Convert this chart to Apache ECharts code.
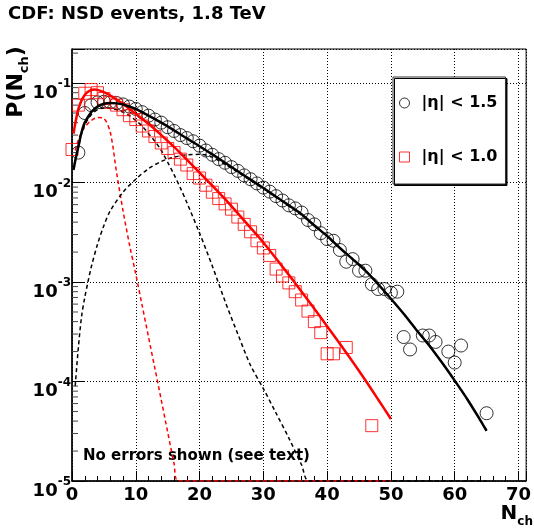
<!DOCTYPE html>
<html><head><meta charset="utf-8">
<script src="https://cdn.jsdelivr.net/npm/echarts@6/dist/echarts.min.js"></script>
<style>html,body{margin:0;padding:0;background:#fff}#c{width:534px;height:532px}</style>
</head><body><div id="c"></div>
<script>
// ---- data ----
const nCirc = [1,2,3,4,5,6,7,8,9,10,11,12,13,14,15,16,17,18,19,20,21,22,23,24,25,26,27,28,29,30,31,32,33,34,35,36,37,38,39,40,41,42,43,44,45,46,47,48,49,50,51,52,53,55,56,57,59,60,61,65];
const pCirc = [0.020,0.050,0.060,0.064,0.065,0.064,0.063,0.061,0.058,0.055,0.051,0.047,0.043,0.040,0.036,0.033,0.030,0.028,0.026,0.0235,0.021,0.019,0.0172,0.0158,0.0143,0.0131,0.0118,0.0108,0.0098,0.0089,0.0081,0.0073,0.0066,0.0059,0.0055,0.0050,0.0042,0.0038,0.0031,0.0027,0.0026,0.0021,0.0016,0.0017,0.0013,0.0013,0.00095,0.00085,0.00085,0.00078,0.00080,0.00028,0.00021,0.00029,0.00029,0.00025,0.00020,0.000155,0.00023,0.000048];

const nSq = [0,1,2,3,4,5,6,7,8,9,10,11,12,13,14,15,16,17,18,19,20,21,22,23,24,25,26,27,28,29,30,31,32,33,34,35,36,37,38,39,40,41,43,47];
const pSq = [0.0215,0.060,0.079,0.086,0.080,0.070,0.064,0.060,0.054,0.047,0.043,0.037,0.033,0.029,0.025,0.022,0.0200,0.0172,0.0150,0.0123,0.0111,0.0094,0.0080,0.0069,0.0061,0.0054,0.0045,0.0038,0.0032,0.0026,0.0022,0.00185,0.00135,0.00115,0.00098,0.00080,0.00066,0.00051,0.00040,0.00031,0.00019,0.00019,0.00022,0.000036];

const nFitB = [0.25,0.5,1,1.5,2,3,4,5,6,7,8,9,10,12,14,16,18,20,22,24,26,28,30,32,34,36,38,40,42,44,46,48,50,52,54,56,58,60,62,64,65];
const pFitB = [0.0135,0.0165,0.023,0.032,0.040,0.051,0.058,0.062,0.063,0.0625,0.061,0.058,0.055,0.047,0.040,0.0335,0.0278,0.0232,0.0192,0.0158,0.0130,0.0107,0.0088,0.0072,0.0059,0.0048,0.0037,0.0029,0.0022,0.0017,0.0013,0.00095,0.00068,0.00048,0.00033,0.00023,0.000155,0.000102,0.000066,0.000041,0.000032];

const nSoftB = [0.25,0.5,1,1.5,2,3,4,5,6,7,8,9,10,11,12,13,14,15,16,17,18,20,22,24,26,28,30,32,34,36,37.2,65];
const pSoftB = [0.0133,0.0163,0.0226,0.031,0.038,0.048,0.054,0.056,0.056,0.054,0.051,0.047,0.042,0.037,0.031,0.026,0.021,0.016,0.012,0.0088,0.0063,0.0031,0.00145,0.00064,0.00030,0.000145,0.000085,0.000048,0.000027,0.0000145,0.00001,0.00001];

const nHardB = [0.5,1,1.5,2,2.5,3,4,5,6,8,10,12,14,16,18,20,22,24,26,28,30,32,34,36,38,40,42,44,46,48,50,52,54,56,58,60,62,64,65];
const pHardB = [0.00009,0.00022,0.00045,0.0007,0.001,0.0014,0.0024,0.0037,0.0052,0.0080,0.0108,0.0138,0.0163,0.0180,0.0190,0.0192,0.0180,0.0152,0.0127,0.0105,0.0087,0.0071,0.0058,0.0047,0.0037,0.0029,0.0022,0.0017,0.0013,0.00095,0.00068,0.00048,0.00033,0.00023,0.000155,0.000102,0.000066,0.000041,0.000032];

const nFitR = [0.25,0.5,1,1.5,2,2.5,3,3.5,4,5,6,7,8,9,10,12,14,16,18,20,22,24,26,28,30,32,34,36,38,40,42,44,46,48,50];
const pFitR = [0.031,0.039,0.055,0.067,0.076,0.082,0.085,0.086,0.0855,0.081,0.075,0.068,0.062,0.055,0.049,0.039,0.030,0.0228,0.0170,0.0126,0.0093,0.0068,0.0049,0.0035,0.0025,0.00172,0.00118,0.00080,0.00054,0.00036,0.00024,0.000158,0.000103,0.000066,0.000042];

const nSoftR = [0.5,1,1.5,2,3,4,5,6,7,8,9,10,11,12,13,14,15,16,16.7,50];
const pSoftR = [0.021,0.027,0.032,0.036,0.042,0.045,0.044,0.032,0.0125,0.0052,0.0024,0.0012,0.00058,0.00028,0.000135,0.000065,0.000031,0.000015,0.00001,0.00001];

const yMinorTicks = [];
[1e-5,1e-4,1e-3,1e-2,1e-1].forEach(d => { for (let k = 2; k <= 9; k++) { if (k*d < 0.22) yMinorTicks.push(k*d); } });

const labelEta15 = '|η| < 1.5';
const labelEta10 = '|η| < 1.0';
const titleText = 'CDF: NSD events, 1.8 TeV';
const noteText = 'No errors shown (see text)';

// ---- chart ----
const zip = (a, b) => a.map((v, i) => [v, b[i]]);
const FONT = '"DejaVu Sans", Verdana, sans-serif';
const chart = echarts.init(document.getElementById('c'), null, {renderer: 'canvas'});

const dashed = (name, n, p, color) => ({
  name, type: 'line', data: zip(n, p), showSymbol: false, smooth: 0.3, clip: true,
  lineStyle: {color, width: 1.5, type: [4, 3]}, z: 3, silent: true
});

chart.setOption({
  animation: false,
  backgroundColor: '#fff',
  grid: {left: 72, top: 49, right: 1, bottom: 51, show: true, borderColor: '#000', borderWidth: 1},
  xAxis: {
    type: 'value', min: 0, max: 71.2, interval: 10,
    axisLine: {show: true, lineStyle: {color: '#000', width: 1.5}},
    axisTick: {show: true, inside: true, length: 10, lineStyle: {color: '#000'}},
    minorTick: {show: true, splitNumber: 5, length: 5, lineStyle: {color: '#000'}},
    splitLine: {show: true, lineStyle: {color: '#000', type: [1, 2], width: 1}},
    axisLabel: {
      margin: 5, color: '#000', fontFamily: FONT, fontWeight: 'bold', fontSize: 18,
      formatter: v => (Math.abs(v % 10) < 1e-6 ? String(v) : '')
    }
  },
  yAxis: {
    type: 'log', logBase: 10, min: 1e-5, max: 0.22,
    axisLine: {show: true, lineStyle: {color: '#000', width: 1.5}},
    axisTick: {show: true, inside: true, length: 12, lineStyle: {color: '#000'}},
    splitLine: {show: true, lineStyle: {color: '#000', type: [1, 2], width: 1}},
    axisLabel: {
      margin: 1, color: '#000', padding: [14, 0, 0, 0],
      formatter: v => {
        const l = Math.log10(v), e = Math.round(l);
        if (Math.abs(l - e) > 0.01) return '';
        return '{b|10}{s|-' + (-e) + '}';
      },
      rich: {
        b: {fontFamily: FONT, fontWeight: 'bold', fontSize: 18, lineHeight: 24, verticalAlign: 'bottom', color: '#000'},
        s: {fontFamily: FONT, fontWeight: 'bold', fontSize: 12, lineHeight: 10, verticalAlign: 'top', color: '#000'}
      }
    }
  },
  legend: {
    orient: 'vertical', left: 393, top: 77,
    padding: [18, 8, 19, 6], itemGap: 38, itemWidth: 24, itemHeight: 10,
    backgroundColor: '#fff', borderColor: '#333', borderWidth: 1,
    shadowColor: '#000', shadowBlur: 0, shadowOffsetX: 1.5, shadowOffsetY: 1.5,
    textStyle: {fontFamily: FONT, fontWeight: 'bold', fontSize: 16, color: '#000'},
    selectedMode: false,
    data: [
      {name: labelEta15, icon: 'circle', itemStyle: {color: 'transparent', borderColor: '#000', borderWidth: 1}},
      {name: labelEta10, icon: 'path://M0,0L10,0L10,10L0,10Z', itemStyle: {color: 'transparent', borderColor: '#ff0000', borderWidth: 1}}
    ]
  },
  graphic: [
    {type: 'text', left: 8, top: 5, style: {text: titleText, fontFamily: FONT, fontWeight: 'bold', fontSize: 18, fill: '#000'}},
    {type: 'text', x: 83, y: 456, style: {text: noteText, fontFamily: FONT, fontWeight: 'bold', fontSize: 15, fill: '#000', verticalAlign: 'middle'}},
    {type: 'text', x: 18, y: 82, rotation: Math.PI / 2,
      style: {text: '{a|P(N}{b|ch}{a|)}', align: 'center', verticalAlign: 'middle',
        rich: {a: {fontFamily: FONT, fontWeight: 'bold', fontSize: 22, lineHeight: 26, verticalAlign: 'top', fill: '#000'},
               b: {fontFamily: FONT, fontWeight: 'bold', fontSize: 13, lineHeight: 13, verticalAlign: 'bottom', fill: '#000'}}}},
    {type: 'text', x: 533, y: 516,
      style: {text: '{a|N}{b|ch}', align: 'right', verticalAlign: 'middle',
        rich: {a: {fontFamily: FONT, fontWeight: 'bold', fontSize: 20, lineHeight: 24, verticalAlign: 'top', fill: '#000'},
               b: {fontFamily: FONT, fontWeight: 'bold', fontSize: 12, lineHeight: 12, verticalAlign: 'bottom', fill: '#000'}}}}
  ],
  series: [
    {
      type: 'custom', silent: true, z: 5, clip: false,
      data: yMinorTicks.map(v => [0, v]),
      encode: {x: 0, y: 1},
      renderItem: (params, api) => {
        const p = api.coord([0, api.value(1)]);
        return {type: 'line', shape: {x1: p[0], y1: p[1], x2: p[0] + 6, y2: p[1]}, style: {stroke: '#444', lineWidth: 1}};
      }
    },
    dashed('softR', nSoftR, pSoftR, '#ff0000'),
    dashed('softB', nSoftB, pSoftB, '#000'),
    dashed('hardB', nHardB, pHardB, '#000'),
    {
      name: labelEta15, type: 'scatter', data: zip(nCirc, pCirc), symbol: 'circle', symbolSize: 13, z: 4,
      itemStyle: {color: 'transparent', borderColor: '#000', borderWidth: 1}
    },
    {
      name: labelEta10, type: 'scatter', data: zip(nSq, pSq), symbol: 'rect', symbolSize: 12, z: 4,
      itemStyle: {color: 'transparent', borderColor: '#ff0000', borderWidth: 1}
    },
    {name: 'fitR', type: 'line', data: zip(nFitR, pFitR), showSymbol: false, smooth: 0.3, z: 6,
      lineStyle: {color: '#ff0000', width: 2.5}},
    {name: 'fitB', type: 'line', data: zip(nFitB, pFitB), showSymbol: false, smooth: 0.3, z: 6,
      lineStyle: {color: '#000', width: 2.5}}
  ]
});
</script>
</body></html>
